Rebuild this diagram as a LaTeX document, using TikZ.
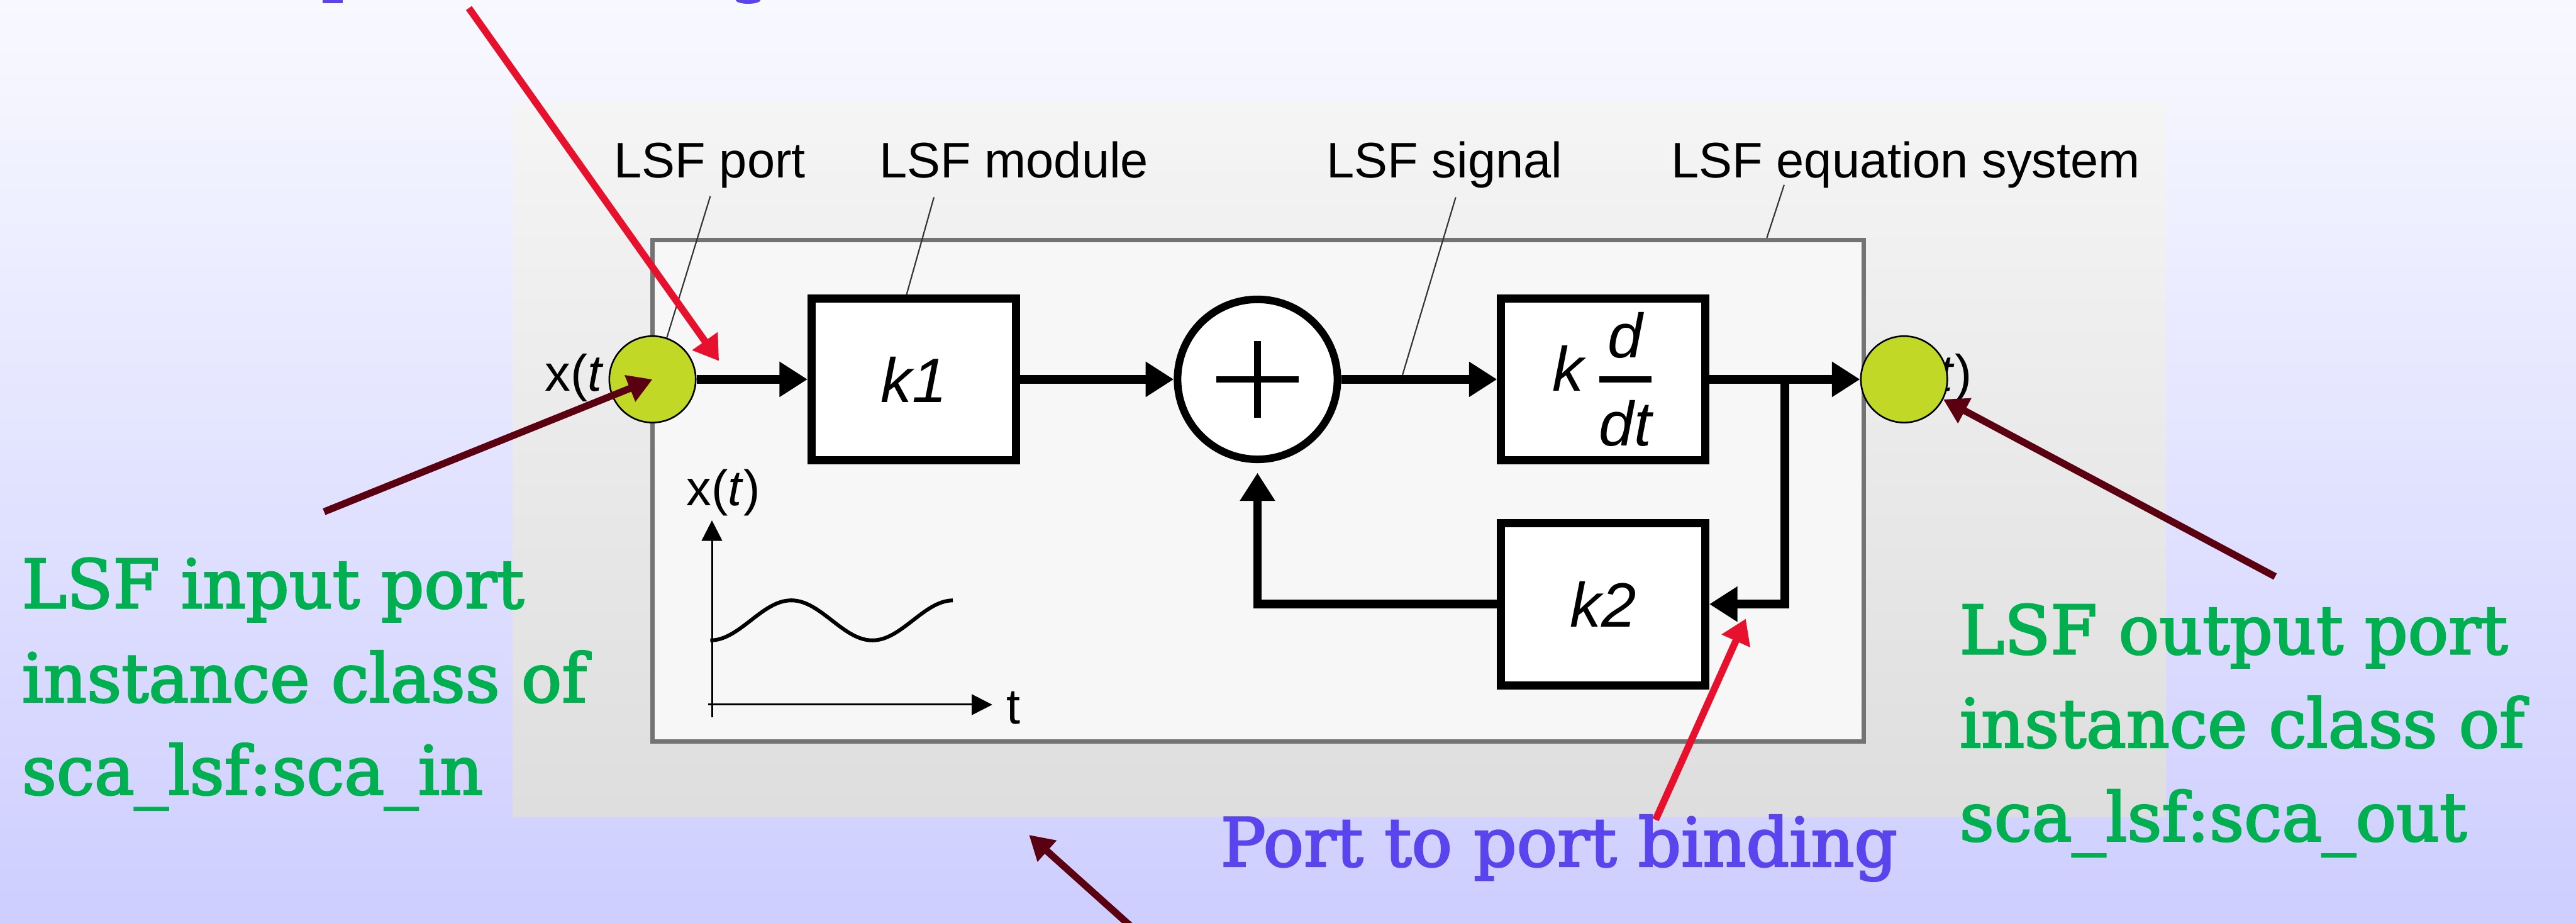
\documentclass[tikz,border=0pt]{standalone}
\usepackage{amsmath}
\usepackage{fontspec}
\setmainfont{Liberation Sans}
\newfontfamily\notefont[FakeBold=2.6]{DejaVu Serif}
\usetikzlibrary{arrows.meta}

\pgfdeclarelayer{front}
\pgfsetlayers{main,front}

\definecolor{slidetop}{RGB}{248,249,255}
\definecolor{slidebot}{RGB}{206,206,255}
\definecolor{portgreen}{RGB}{194,216,38}
\definecolor{notegreen}{RGB}{0,176,80}
\definecolor{noteblue}{RGB}{90,68,238}
\definecolor{markred}{RGB}{232,17,45}
\definecolor{markdark}{RGB}{90,0,16}

\tikzset{
  blockbox/.style={draw, line width=0.15cm, fill=white, inner sep=0pt,
    minimum width=3.78cm, minimum height=3.0cm, font=\fontsize{33}{38}\selectfont},
  sumdot/.style={circle, draw, line width=0.14cm, fill=white, minimum size=2.96cm, inner sep=0pt},
  portdot/.style={circle, draw, line width=0.03cm, fill=portgreen, minimum size=1.6cm, inner sep=0pt},
  sig/.style={line width=0.16cm, line join=miter, -{Triangle[length=0.52cm,width=0.62cm]}},
  tag/.style={inner sep=0pt, anchor=base west, font=\fontsize{26.3}{30}\selectfont},
  leader/.style={draw=black!80, line width=0.025cm},
  axis/.style={line width=0.035cm, -{Triangle[length=0.38cm,width=0.38cm]}},
  redarrow/.style={draw=markred, line width=0.13cm, -{Triangle[length=0.45cm,width=0.55cm]}},
  darkarrow/.style={draw=markdark, line width=0.13cm, -{Triangle[length=0.45cm,width=0.5cm]}},
  note/.style={inner sep=0pt, anchor=base west,
    font=\notefont\fontsize{35.5}{49.3}\selectfont},
}

\begin{document}
\begin{tikzpicture}
  \useasboundingbox (0,0) rectangle (47.69,-17.07);
  \shade[top color=slidetop, bottom color=slidebot] (0,0) rectangle (47.69,-17.07);
  % cut-off text at the top edge
  \fill[noteblue] (5.97,0) rectangle (6.35,-0.06);
  \fill[noteblue] (13.62,0) arc (180:360:0.23 and 0.07) -- cycle;

  % screenshot panel
  \shade[top color=black!4, bottom color=black!13] (9.49,-1.89) rectangle (40.09,-15.12);
  \node[draw=black!55, line width=0.08cm, fill=black!3, minimum width=22.42cm,
    minimum height=9.28cm] (eqsys) at (23.29,-9.08) {};

  \begin{pgfonlayer}{front}
    \node[portdot] (inport) at (12.08,-7.02) {};
    \node[portdot] (outport) at (35.25,-7.02) {};
  \end{pgfonlayer}

  % labels
  \node[tag] (lblport) at (11.36,-3.29) {LSF port};
  \node[tag] (lblmodule) at (16.27,-3.29) {LSF module};
  \node[tag] (lblsignal) at (24.55,-3.29) {LSF signal};
  \node[tag] (lbleqs) at (30.93,-3.29) {LSF equation system};

  % blocks
  \node[blockbox] (k1) at (16.915,-7.02) {\textit{k1}};
  \node[sumdot] (sum) at (23.28,-7.02) {};
  \draw[line width=0.12cm] ([xshift=-0.76cm]sum.center) -- ([xshift=0.76cm]sum.center);
  \draw[line width=0.12cm] ([yshift=-0.71cm]sum.center) -- ([yshift=0.71cm]sum.center);
  \node[blockbox] (kdt) at (29.68,-7.02) {\textit{k}\,$\genfrac{}{}{3.2pt}{0}{\textit{d}}{\textit{dt}}$};
  \node[blockbox] (k2) at (29.68,-11.18) {\textit{k2}};
  \coordinate (branch) at (33.04,-7.02);
  \coordinate (sigtap) at (25.94,-7.02);

  % leaders
  \draw[leader] ([xshift=1.79cm,yshift=-0.34cm]lblport.base west) -- (inport.71);
  \draw[leader] ([xshift=1.02cm,yshift=-0.36cm]lblmodule.base west) -- ([xshift=-0.13cm]k1.north);
  \draw[leader] ([xshift=2.40cm,yshift=-0.36cm]lblsignal.base west) -- (sigtap);
  \draw[leader] ([xshift=2.10cm,yshift=-0.13cm]lbleqs.base west) -- ([xshift=9.42cm]eqsys.north);

  % signals
  \draw[sig] (inport) -- (k1);
  \draw[sig] (k1) -- (sum);
  \draw[sig] (sum) -- (kdt);
  \draw[sig] (kdt) -- (outport);
  \draw[sig] (branch) |- (k2.east);
  \draw[sig, shorten >=0.18cm] (k2.west) -| (sum.south);

  % small plot
  \coordinate (ybot) at (13.18,-13.27);
  \coordinate (ytop) at (13.18,-9.63);
  \coordinate (xleft) at (13.11,-13.04);
  \coordinate (xright) at (18.37,-13.04);
  \draw[axis] (ybot) -- (ytop);
  \draw[axis] (xleft) -- (xright);
  \draw[line width=0.07cm, domain=13.15:17.64, samples=60, smooth, variable=\x]
    plot ({\x},{-11.48-0.37*cos(180*(\x-13.15)/1.5)});
  \node[tag] (plotx) at (12.70,-9.35) {x(\textit{t})};
  \node[tag] (plott) at (18.63,-13.40) {t};

  % port names
  \node[tag, font=\fontsize{27}{30}\selectfont] (inname) at (10.08,-7.24) {x(\textit{t}};
  \node[tag, anchor=base east, font=\fontsize{27}{30}\selectfont] (outname) at (36.51,-7.24) {\textit{t})};

  % annotations
  \coordinate (redtop) at (8.68,-0.15);
  \coordinate (inbind) at (13.31,-6.68);
  \coordinate (redbot) at (30.65,-15.17);
  \coordinate (fbbind) at (32.32,-11.45);
  \coordinate (darkin) at (6.0,-9.47);
  \coordinate (darkout) at (42.12,-10.67);
  \coordinate (darkbot) at (21.0,-17.2);
  \coordinate (panelbot) at (19.05,-15.45);
  \begin{pgfonlayer}{front}
    \draw[redarrow] (redtop) -- (inbind);
    \draw[redarrow] (redbot) -- (fbbind);
    \draw[darkarrow] (darkin) -- (inport.center);
    \draw[darkarrow] (darkout) -- (outport.-27);
    \draw[darkarrow] (darkbot) -- (panelbot);
  \end{pgfonlayer}

  \node[note, text=notegreen] (innote1) at (0.40,-11.25) {LSF input port};
  \node[note, text=notegreen] (innote2) at (0.40,-12.99) {instance class of};
  \node[note, text=notegreen] (innote3) at (0.40,-14.70) {sca\_lsf:sca\_in};
  \node[note, text=notegreen] (outnote1) at (36.27,-12.10) {LSF output port};
  \node[note, text=notegreen] (outnote2) at (36.27,-13.83) {instance class of};
  \node[note, text=notegreen] (outnote3) at (36.27,-15.56) {sca\_lsf:sca\_out};
  \node[note, text=noteblue] (bindnote) at (22.59,-16.03) {Port to port binding};
\end{tikzpicture}
\end{document}
